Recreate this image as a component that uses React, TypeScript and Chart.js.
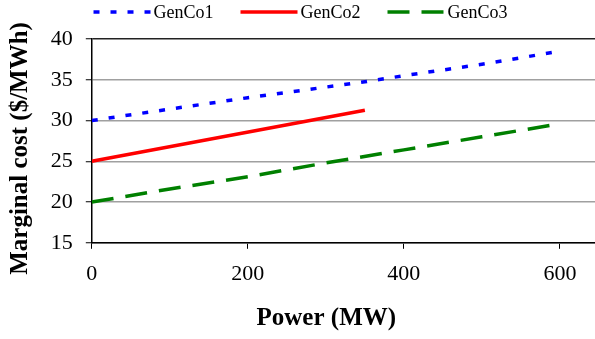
import React, { useEffect, useRef } from "react";
import { Chart, registerables } from "chart.js";

Chart.register(...registerables);

const seriesNames = ["GenCo1", "GenCo2", "GenCo3"];
const genCo1Power = [0, 100, 200, 300, 350, 400, 500, 600];
const genCo1Cost = [30, 31.4, 32.8, 34.1, 34.75, 35.5, 36.9, 38.5];
const genCo2Power = [0, 350];
const genCo2Cost = [25, 31.25];
const genCo3Power = [0, 100, 200, 300, 400, 500, 600];
const genCo3Cost = [20, 21.6, 23.1, 24.8, 26.4, 28.0, 29.6];
const xTicks = [0, 200, 400, 600];
const yTickValues = [15, 20, 25, 30, 35, 40];
const xTitle = "Power (MW)";
const yTitle = "Marginal cost ($/MWh)";

const FONT = '"Liberation Serif", "Times New Roman", serif';

const toPoints = (xs: number[], ys: number[]) => xs.map((x, i) => ({ x, y: ys[i] }));

const legendPlugin = {
  id: "topLegend",
  afterDraw(chart: any) {
    const ctx = chart.ctx;
    ctx.save();
    ctx.font = `18px ${FONT}`;
    const sample = 57;
    const gapText = 3;
    const gapItem = 27;
    const ds = chart.data.datasets;
    const widths = ds.map((d: any) => sample + gapText + ctx.measureText(d.label).width);
    const total = widths.reduce((a: number, b: number) => a + b, 0) + gapItem * (ds.length - 1);
    let x = (chart.width - total) / 2 + 3;
    const y = 12;
    ds.forEach((d: any, i: number) => {
      ctx.strokeStyle = d.borderColor;
      ctx.lineWidth = 3.5;
      ctx.lineCap = "butt";
      ctx.setLineDash(d.borderDash || []);
      ctx.beginPath();
      ctx.moveTo(x, y);
      ctx.lineTo(x + sample, y);
      ctx.stroke();
      ctx.setLineDash([]);
      ctx.fillStyle = "#000";
      ctx.textBaseline = "middle";
      ctx.textAlign = "left";
      ctx.fillText(d.label, x + sample + gapText, y + 1);
      x += widths[i] + gapItem;
    });

    // axis titles
    const area = chart.chartArea;
    ctx.font = `bold 25px ${FONT}`;
    ctx.fillStyle = "#000";
    ctx.textAlign = "center";
    ctx.textBaseline = "middle";
    ctx.fillText(xTitle, area.left + (area.right - area.left) * 0.466, chart.height - 20);
    ctx.save();
    ctx.translate(21, area.top + (area.bottom - area.top) * 0.537);
    ctx.rotate(-Math.PI / 2);
    ctx.fillText(yTitle, 0, 0);
    ctx.restore();
    ctx.restore();
  },
};

export default function App() {
  const ref = useRef<HTMLCanvasElement | null>(null);

  useEffect(() => {
    document.body.style.margin = "0";
    if (!ref.current) return;
    const chart = new Chart(ref.current, {
      type: "line",
      data: {
        datasets: [
          {
            label: seriesNames[0],
            data: toPoints(genCo1Power, genCo1Cost),
            borderColor: "#0000ff",
            borderWidth: 3.5,
            borderDash: [6, 11],
            pointRadius: 0,
            fill: false,
            tension: 0,
          },
          {
            label: seriesNames[1],
            data: toPoints(genCo2Power, genCo2Cost),
            borderColor: "#ff0000",
            borderWidth: 3.5,
            pointRadius: 0,
            fill: false,
            tension: 0,
          },
          {
            label: seriesNames[2],
            data: toPoints(genCo3Power, genCo3Cost),
            borderColor: "#008000",
            borderWidth: 3.5,
            borderDash: [22, 12],
            pointRadius: 0,
            fill: false,
            tension: 0,
          },
        ],
      },
      options: {
        animation: false,
        responsive: false,
        maintainAspectRatio: false,
        layout: { padding: { top: 39, right: 0, left: 0, bottom: 0 } },
        plugins: {
          legend: { display: false },
          tooltip: { enabled: false },
        },
        scales: {
          x: {
            type: "linear",
            min: 0,
            max: 645,
            afterBuildTicks: (axis: any) => {
              axis.ticks = xTicks.map((v) => ({ value: v }));
            },
            grid: {
              drawOnChartArea: false,
              drawTicks: true,
              tickLength: 6,
              tickColor: "#000",
              tickWidth: 1,
            },
            border: { color: "#000", width: 1.5 },
            ticks: {
              padding: 12,
              color: "#000",
              font: { family: FONT, size: 22 },
              maxRotation: 0,
            },
            title: {
              display: true,
              text: xTitle,
              color: "rgba(0,0,0,0)",
              font: { family: FONT, size: 24, weight: "bold" },
              padding: { top: 5, bottom: 6 },
            },
          },
          y: {
            min: 15,
            max: 40,
            afterBuildTicks: (axis: any) => {
              axis.ticks = yTickValues.map((v) => ({ value: v }));
            },
            grid: {
              color: (c: any) => (c.tick && c.tick.value === 40 ? "#222" : "#a0a0a0"),
              lineWidth: 1.5,
              drawTicks: true,
              tickLength: 6,
              tickColor: "#000",
              tickWidth: 1,
            },
            border: { color: "#000", width: 1.5 },
            ticks: {
              padding: 13,
              color: "#000",
              font: { family: FONT, size: 22 },
            },
            title: {
              display: true,
              text: yTitle,
              color: "rgba(0,0,0,0)",
              font: { family: FONT, size: 24, weight: "bold" },
              padding: { top: 6, bottom: 3 },
            },
          },
        },
      },
      plugins: [legendPlugin],
    } as any);
    return () => chart.destroy();
  }, []);

  return (
    <div style={{ width: 595, height: 339 }}>
      <canvas ref={ref} width={595} height={339} style={{ display: "block", width: 595, height: 339 }} />
    </div>
  );
}
